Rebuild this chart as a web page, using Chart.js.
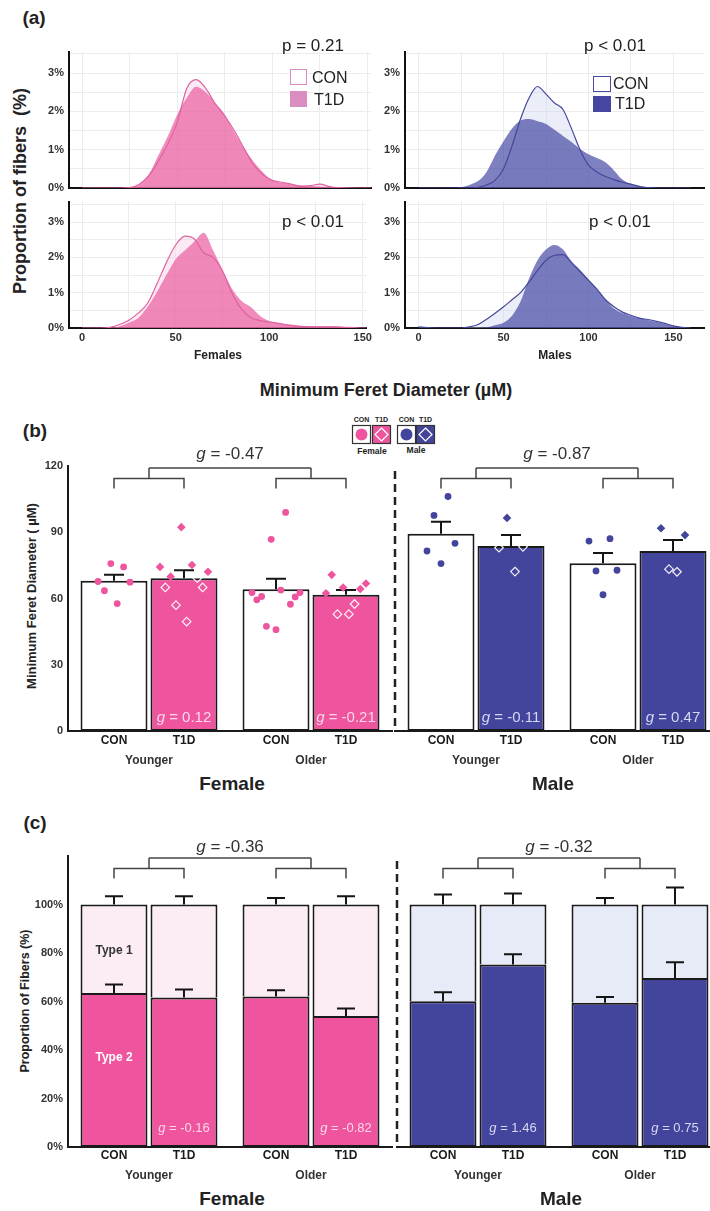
<!DOCTYPE html>
<html>
<head>
<meta charset="utf-8">
<script src="https://cdn.jsdelivr.net/npm/chart.js@4.4.1/dist/chart.umd.min.js"></script>
<style>
  body { margin: 0; width: 710px; height: 1211px; overflow: hidden; background: #fff; position: relative;
         font-family: "Liberation Sans", Arial, Helvetica, sans-serif; color: #222; }
  canvas { position: absolute; }
  .t { position: absolute; white-space: nowrap; transform: translate(-50%, -50%); line-height: 1; }
  .l { position: absolute; white-space: nowrap; transform: translateY(-50%); line-height: 1; }
  .rot { transform: translate(-50%, -50%) rotate(-90deg); }
  .b { font-weight: bold; }
  .box { position: absolute; box-sizing: border-box; }
</style>
</head>
<body>

<!-- (a) -->
<div class="t b" style="left:34px;top:17px;font-size:19px">(a)</div>
<div class="t b rot" style="left:20px;top:191px;font-size:18px">Proportion of fibers&nbsp; (%)</div>
<canvas id="aTL" width="336" height="160" style="left:39px;top:40px"></canvas>
<canvas id="aTR" width="333" height="160" style="left:375px;top:40px"></canvas>
<canvas id="aBL" width="336" height="158" style="left:39px;top:190px"></canvas>
<canvas id="aBR" width="333" height="158" style="left:375px;top:190px"></canvas>
<div class="t" style="left:313px;top:45px;font-size:17px">p = 0.21</div>
<div class="t" style="left:615px;top:45px;font-size:17px">p &lt; 0.01</div>
<div class="t" style="left:313px;top:221px;font-size:17px">p &lt; 0.01</div>
<div class="t" style="left:620px;top:221px;font-size:17px">p &lt; 0.01</div>
<div class="box" style="left:290px;top:69px;width:17px;height:16px;border:1.5px solid #d98dc0;background:#fff"></div>
<div class="box" style="left:290px;top:91px;width:17px;height:16px;background:#d98dc0"></div>
<div class="l" style="left:312px;top:78px;font-size:16px">CON</div>
<div class="l" style="left:314px;top:100px;font-size:16px">T1D</div>
<div class="box" style="left:593px;top:76px;width:18px;height:16px;border:1.5px solid #4a4c9c;background:#fff"></div>
<div class="box" style="left:593px;top:96px;width:18px;height:16px;background:#4646a0"></div>
<div class="l" style="left:613px;top:84px;font-size:16px">CON</div>
<div class="l" style="left:615px;top:104px;font-size:16px">T1D</div>
<div class="t b" style="left:218px;top:355px;font-size:12px">Females</div>
<div class="t b" style="left:555px;top:355px;font-size:12px">Males</div>
<div class="t b" style="left:386px;top:390px;font-size:18px">Minimum Feret Diameter (µM)</div>

<!-- (b) -->
<div class="t b" style="left:35px;top:430px;font-size:19px">(b)</div>
<svg style="position:absolute;left:350px;top:414px" width="90" height="44" viewBox="0 0 90 44">
  <g font-family="Liberation Sans, Arial, sans-serif" font-weight="bold" font-size="7" text-anchor="middle" fill="#222">
    <text x="11.5" y="7.5">CON</text><text x="31.5" y="7.5">T1D</text>
    <text x="56.5" y="7.5">CON</text><text x="75.5" y="7.5">T1D</text>
    <text x="22" y="40" font-size="8.5">Female</text><text x="66" y="39" font-size="8.5">Male</text>
  </g>
  <rect x="2.5" y="11.5" width="18" height="18" fill="#fff" stroke="#333" stroke-width="1.2"/>
  <circle cx="11.5" cy="20.5" r="6" fill="#ee559e"/>
  <rect x="22.5" y="11.5" width="18" height="18" fill="#ee559e" stroke="#333" stroke-width="1.2"/>
  <path d="M31.5 14 L38 20.5 L31.5 27 L25 20.5 Z" fill="none" stroke="#fff" stroke-width="1.2"/>
  <rect x="47.5" y="11.5" width="18" height="18" fill="#fff" stroke="#333" stroke-width="1.2"/>
  <circle cx="56.5" cy="20.5" r="6" fill="#43449b"/>
  <rect x="66.5" y="11.5" width="18" height="18" fill="#43449b" stroke="#333" stroke-width="1.2"/>
  <path d="M75.5 14 L82 20.5 L75.5 27 L69 20.5 Z" fill="none" stroke="#fff" stroke-width="1.2"/>
</svg>
<div class="t b rot" style="left:31px;top:596px;font-size:13px">Minimum Feret Diameter ( µM)</div>
<canvas id="bF" width="393" height="330" style="left:0px;top:440px"></canvas>
<canvas id="bM" width="330" height="330" style="left:389px;top:440px"></canvas>
<div class="t b" style="left:232px;top:783px;font-size:19px">Female</div>
<div class="t b" style="left:553px;top:783px;font-size:19px">Male</div>

<!-- (c) -->
<div class="t b" style="left:35px;top:822px;font-size:19px">(c)</div>
<div class="t b rot" style="left:25px;top:1001px;font-size:12.5px">Proportion of Fibers (%)</div>
<canvas id="cF" width="393" height="356" style="left:0px;top:830px"></canvas>
<canvas id="cM" width="330" height="356" style="left:391px;top:830px"></canvas>
<div class="t b" style="left:232px;top:1198px;font-size:19px">Female</div>
<div class="t b" style="left:561px;top:1198px;font-size:19px">Male</div>

<script>
const FONT = '"Liberation Sans", Arial, Helvetica, sans-serif';
Chart.defaults.font.family = FONT;
Chart.defaults.color = '#222';

// ---------- (a) fibre size distributions (% of fibres), 5 µm steps ----------
const diam = [0, 5, 10, 15, 20, 25, 30, 35, 40, 45, 50, 55, 60, 65, 70, 75, 80,
              85, 90, 95, 100, 105, 110, 115, 120, 125, 130, 135, 140, 145, 150, 155, 160];
const femRow1CON = [0, 0, 0, 0, 0, 0.01, 0.1, 0.32, 0.7, 1.15, 1.72, 2.6, 2.83, 2.6, 2.2, 1.88, 1.5,
                    1.05, 0.62, 0.35, 0.2, 0.15, 0.1, 0.04, 0.06, 0.1, 0.04, 0.01, 0, 0, 0, 0, 0];
const femRow1T1D = [0, 0, 0, 0, 0, 0.02, 0.08, 0.35, 0.85, 1.35, 1.92, 2.35, 2.64, 2.5, 2.22, 1.92, 1.45,
                    1.05, 0.7, 0.42, 0.2, 0.14, 0.1, 0.07, 0.05, 0.04, 0.03, 0.02, 0.01, 0, 0, 0, 0];
const femRow2CON = [0, 0, 0, 0.02, 0.1, 0.22, 0.42, 0.7, 1.25, 1.85, 2.35, 2.6, 2.52, 2.13, 2.0, 1.62, 1.0,
                    0.55, 0.3, 0.21, 0.17, 0.13, 0.08, 0.05, 0.04, 0.03, 0.03, 0.03, 0.02, 0.01, 0, 0, 0];
const femRow2T1D = [0, 0, 0, 0, 0.05, 0.15, 0.28, 0.6, 1.02, 1.5, 1.95, 2.2, 2.45, 2.7, 2.2, 1.65, 1.12,
                    0.78, 0.6, 0.35, 0.2, 0.13, 0.1, 0.08, 0.06, 0.05, 0.05, 0.04, 0.03, 0.02, 0, 0, 0];
const maleRow1CON = [0, 0, 0, 0, 0, 0, 0, 0.02, 0.08, 0.2, 0.5, 1.1, 1.8, 2.35, 2.65, 2.45, 2.22,
                     2.05, 1.55, 1.0, 0.6, 0.42, 0.3, 0.22, 0.15, 0.1, 0.04, 0.01, 0, 0, 0, 0, 0];
const maleRow1T1D = [0, 0, 0, 0, 0, 0.02, 0.08, 0.18, 0.42, 0.85, 1.22, 1.55, 1.76, 1.8, 1.74, 1.67, 1.52,
                     1.36, 1.2, 1.02, 0.88, 0.78, 0.67, 0.46, 0.22, 0.1, 0.06, 0.02, 0, 0, 0, 0, 0];
const maleRow2CON = [0.03, 0.01, 0, 0, 0, 0, 0.03, 0.1, 0.25, 0.42, 0.6, 0.8, 1.0, 1.3, 1.63, 1.92, 2.06,
                     2.08, 1.85, 1.6, 1.35, 1.1, 0.8, 0.6, 0.45, 0.36, 0.28, 0.24, 0.19, 0.13, 0.06, 0.02, 0];
const maleRow2T1D = [0, 0, 0, 0, 0, 0, 0, 0, 0.02, 0.08, 0.15, 0.35, 0.75, 1.4, 1.92, 2.22, 2.35,
                     2.22, 1.88, 1.65, 1.38, 1.1, 0.8, 0.55, 0.42, 0.34, 0.28, 0.23, 0.17, 0.11, 0.06, 0.01, 0];

// ---------- (b) minimum Feret diameter (µm) ----------
const ageGroups = ['Younger', 'Older'];
const femConMean = [68.0, 64.2];
const femConSem = [2.7, 4.8];
const femT1dMean = [69.2, 61.7];
const femT1dSem = [3.6, 2.1];
const maleConMean = [89.3, 76.0];
const maleConSem = [5.4, 4.6];
const maleT1dMean = [83.8, 81.5];
const maleT1dSem = [4.9, 5.0];
// individual participants, left to right as plotted
const femConYoungerPts = [67.7, 63.5, 75.8, 57.7, 74.3, 67.4];
const femT1dYoungerPts = [74.3, 65.0, 69.9, 57.0, 92.3, 49.5, 75.2, 69.2, 65.0, 72.1];
const femConOlderPts = [62.7, 59.4, 60.9, 47.4, 86.8, 45.9, 63.8, 99.0, 57.4, 60.7, 62.7];
const femT1dOlderPts = [62.4, 70.7, 52.9, 65.0, 52.9, 57.5, 64.3, 66.8];
const maleConYoungerPts = [81.5, 97.6, 75.8, 106.2, 85.0];
const maleT1dYoungerPts = [83.0, 96.5, 72.2, 83.4];
const maleConOlderPts = [86.0, 72.5, 61.7, 87.1, 72.8];
const maleT1dOlderPts = [91.8, 73.3, 72.1, 88.7];
const feretGFemale = '-0.47';
const feretGMale = '-0.87';
const feretBarGFemale = ['0.12', '-0.21'];
const feretBarGMale = ['-0.11', '0.47'];

// ---------- (c) fibre type proportions (%) ----------
const femConType2 = [63.5, 62.1];
const femConType2Sem = [3.5, 2.5];
const femConType1Sem = [3.4, 2.7];
const femT1dType2 = [61.6, 54.0];
const femT1dType2Sem = [3.3, 3.1];
const femT1dType1Sem = [3.4, 3.4];
const maleConType2 = [60.1, 59.5];
const maleConType2Sem = [3.7, 2.4];
const maleConType1Sem = [4.1, 2.7];
const maleT1dType2 = [75.3, 69.7];
const maleT1dType2Sem = [4.2, 6.5];
const maleT1dType1Sem = [4.5, 7.0];
const typeGFemale = '-0.36';
const typeGMale = '-0.32';
const typeBarGFemale = ['-0.16', '-0.82'];
const typeBarGMale = ['1.46', '0.75'];

const PINK = '#ee559e', BLUE = '#43449b';
const CAT_PCT = 0.864, BAR_PCT = 0.957;

// ---------------- panel (a) ----------------
function density(id, con, t1d, col, xMin, xMax, yMax, showX, padTop) {
  const pts = arr => diam.map((d, i) => ({ x: d, y: arr[i] }));
  return new Chart(document.getElementById(id), {
    type: 'line',
    data: {
      datasets: [
        { data: pts(con), borderColor: col.line, borderWidth: 1.2, fill: false, order: 0 },
        { data: pts(t1d), borderWidth: 0, borderColor: col.t1d, backgroundColor: col.t1d, fill: 'origin', order: 1 },
        { data: pts(con), borderWidth: 0, borderColor: col.conFill, backgroundColor: col.conFill, fill: 'origin', order: 2 }
      ]
    },
    options: {
      responsive: false, animation: false, events: [],
      layout: { padding: { top: padTop, right: 4 } },
      elements: { point: { radius: 0 }, line: { cubicInterpolationMode: 'monotone' } },
      plugins: { legend: { display: false }, tooltip: { enabled: false } },
      scales: {
        x: {
          type: 'linear', min: xMin, max: xMax,
          afterFit: s => { s.height = showX ? 20 : 12; },
          grid: { color: '#ececec', drawTicks: false },
          border: { color: '#111', width: 2 },
          ticks: { display: showX, stepSize: 25, includeBounds: false, autoSkip: false, maxRotation: 0,
                   padding: 3, color: '#333', font: { weight: 'bold', size: 11 },
                   callback: v => (v % 50 === 0 ? v : '') }
        },
        y: {
          min: 0, max: yMax,
          afterFit: s => { s.width = 30; },
          grid: { color: '#ececec', drawTicks: false },
          border: { color: '#111', width: 2 },
          ticks: { stepSize: 0.5, includeBounds: false, autoSkip: false, padding: 5, color: '#333',
                   font: { weight: 'bold', size: 11 },
                   callback: v => (Number.isInteger(v) ? v + '%' : '') }
        }
      }
    }
  });
}

const femCol = { line: '#df62a0', t1d: 'rgba(234,92,160,0.7)', conFill: 'rgba(246,200,225,0.4)' };
const maleCol = { line: '#45479a', t1d: 'rgba(58,60,158,0.65)', conFill: 'rgba(205,210,238,0.4)' };
density('aTL', femRow1CON, femRow1T1D, femCol, -7, 152, 3.55, false, 12);
density('aTR', maleRow1CON, maleRow1T1D, maleCol, -8, 168, 3.55, false, 12);
density('aBL', femRow2CON, femRow2T1D, femCol, -7, 152, 3.58, true, 3);
density('aBR', maleRow2CON, maleRow2T1D, maleCol, -8, 168, 3.58, true, 3);

// ---------------- shared helpers for (b) and (c) ----------------
function gText(ctx, val, cx, cy, size, color) {
  ctx.font = `italic ${size}px ${FONT}`;
  const w1 = ctx.measureText('g').width;
  const rest = ' = ' + val;
  ctx.font = `${size}px ${FONT}`;
  const w2 = ctx.measureText(rest).width;
  const x = cx - (w1 + w2) / 2;
  ctx.fillStyle = color; ctx.textAlign = 'left'; ctx.textBaseline = 'middle';
  ctx.font = `italic ${size}px ${FONT}`;
  ctx.fillText('g', x, cy);
  ctx.font = `${size}px ${FONT}`;
  ctx.fillText(rest, x + w1, cy);
}

// participant points, spread across the bar they belong to
function drawPoints(ctx, bar, vals, y, mean, diamond, color) {
  const n = vals.length, half = Math.min(24, 4 + 2 * n);
  vals.forEach((v, k) => {
    const px = bar.x + (n > 1 ? (k / (n - 1) - 0.5) * 2 * half : 0);
    const py = y.getPixelForValue(v);
    ctx.beginPath();
    if (!diamond) {
      ctx.arc(px, py, 3.4, 0, Math.PI * 2);
      ctx.fillStyle = color; ctx.fill();
      return;
    }
    const r = 4.3;
    ctx.moveTo(px, py - r); ctx.lineTo(px + r, py); ctx.lineTo(px, py + r); ctx.lineTo(px - r, py);
    ctx.closePath();
    if (v > mean) { ctx.fillStyle = color; ctx.fill(); }
    else { ctx.strokeStyle = 'rgba(255,255,255,0.92)'; ctx.lineWidth = 1.2; ctx.stroke(); }
  });
}

const errorBars = {
  id: 'errorBars',
  afterDatasetDraw(chart, args, o) {
    const ds = chart.data.datasets[args.index];
    if (!ds.sem) return;
    const ctx = chart.ctx, y = chart.scales.y;
    ctx.save();
    ctx.strokeStyle = '#151515'; ctx.lineWidth = 2;
    args.meta.data.forEach((bar, j) => {
      const tip = y.getPixelForValue(y.getValueForPixel(bar.y) + ds.sem[j]);
      ctx.beginPath();
      ctx.moveTo(bar.x, bar.y); ctx.lineTo(bar.x, tip);
      ctx.moveTo(bar.x - o.cap / 2, tip); ctx.lineTo(bar.x + o.cap / 2, tip);
      ctx.stroke();
    });
    ctx.restore();
  }
};

const decor = {
  id: 'decor',
  afterDraw(chart, args, o) {
    const ctx = chart.ctx, y = chart.scales.y, area = chart.chartArea;
    const con = chart.getDatasetMeta(o.con).data, t1d = chart.getDatasetMeta(o.t1d).data;
    ctx.save();
    // participants
    if (o.points) {
      const conMean = chart.data.datasets[o.con].data, t1dMean = chart.data.datasets[o.t1d].data;
      con.forEach((b, j) => drawPoints(ctx, b, o.points.con[j], y, conMean[j], false, o.points.color));
      t1d.forEach((b, j) => drawPoints(ctx, b, o.points.t1d[j], y, t1dMean[j], true, o.points.color));
    }
    // group labels under each bar
    ctx.font = `bold 12px ${FONT}`; ctx.fillStyle = '#1a1a1a';
    ctx.textAlign = 'center'; ctx.textBaseline = 'middle';
    con.forEach(b => ctx.fillText('CON', b.x, area.bottom + o.labelDy));
    t1d.forEach(b => ctx.fillText('T1D', b.x, area.bottom + o.labelDy));
    // effect size inside T1D bars
    t1d.forEach((b, j) => gText(ctx, o.barG[j], b.x, b.base - o.gLift, o.gSize, o.gColor));
    // brackets
    const [lo, mid, hi] = o.levels.map(v => y.getPixelForValue(v));
    ctx.strokeStyle = '#444'; ctx.lineWidth = 1.5;
    const mids = con.map((b, j) => {
      const x0 = b.x, x1 = t1d[j].x, xm = (x0 + x1) / 2;
      ctx.beginPath();
      ctx.moveTo(x0, lo); ctx.lineTo(x0, mid); ctx.lineTo(x1, mid); ctx.lineTo(x1, lo);
      ctx.moveTo(xm, mid); ctx.lineTo(xm, hi);
      ctx.stroke();
      return xm;
    });
    ctx.beginPath(); ctx.moveTo(mids[0], hi); ctx.lineTo(mids[1], hi); ctx.stroke();
    gText(ctx, o.g, (mids[0] + mids[1]) / 2, hi - o.gAbove, 17, '#333');
    // dashed separator between sexes
    if (o.separator) {
      ctx.setLineDash([8, 5]); ctx.lineWidth = 2.5; ctx.strokeStyle = '#222';
      ctx.beginPath(); ctx.moveTo(area.left, area.top + 5); ctx.lineTo(area.left, area.bottom); ctx.stroke();
      ctx.setLineDash([]);
    }
    // fibre type names in the first bar
    if (o.typeLabels) {
      ctx.font = `bold 12px ${FONT}`; ctx.textAlign = 'center';
      ctx.fillStyle = '#333'; ctx.fillText('Type 1', con[0].x, y.getPixelForValue(81));
      ctx.fillStyle = '#fff'; ctx.fillText('Type 2', con[0].x, y.getPixelForValue(37));
    }
    ctx.restore();
  }
};

function xScale(pad, stacked) {
  return {
    stacked: stacked,
    afterFit: s => { s.height = 39; },
    grid: { display: false, drawTicks: false },
    border: { color: '#1a1a1a', width: 2 },
    ticks: { padding: pad, color: '#333', font: { weight: 'bold', size: 12 } }
  };
}
function yScale(showY, max, step, fmt, stacked) {
  return {
    display: showY, stacked: stacked, min: 0, max: max,
    afterFit: s => { s.width = showY ? 68 : 0; },
    grid: { display: false, drawTicks: false },
    border: { color: '#1a1a1a', width: 2 },
    ticks: { stepSize: step, padding: 5, autoSkip: false, color: '#333',
             font: { weight: 'bold', size: 11 }, callback: fmt }
  };
}

// ---------------- panel (b) ----------------
function feret(id, showY, col, con, conSem, t1d, t1dSem, conPts, t1dPts, g, barG, gColor) {
  const pad = showY ? { top: 26, right: 1 } : { top: 26, left: 6 };
  const bar = (label, data, sem, fill) => ({
    label: label, data: data, sem: sem, backgroundColor: fill,
    borderColor: '#1a1a1a', borderWidth: 2, borderSkipped: false
  });
  return new Chart(document.getElementById(id), {
    type: 'bar',
    data: {
      labels: ageGroups,
      datasets: [bar('CON', con, conSem, '#fff'), bar('T1D', t1d, t1dSem, col)]
    },
    options: {
      responsive: false, animation: false, events: [],
      layout: { padding: pad },
      datasets: { bar: { categoryPercentage: CAT_PCT, barPercentage: BAR_PCT } },
      plugins: {
        legend: { display: false }, tooltip: { enabled: false },
        errorBars: { cap: 20 },
        decor: { con: 0, t1d: 1, labelDy: 10, barG: barG, gLift: 13, gSize: 15, gColor: gColor,
                 levels: [109.8, 114.3, 119.1], g: g, gAbove: 14, separator: !showY, typeLabels: false,
                 points: { con: conPts, t1d: t1dPts, color: col } }
      },
      scales: {
        x: xScale(22, false),
        y: yScale(showY, 120, 30, v => v, false)
      }
    },
    plugins: [errorBars, decor]
  });
}

feret('bF', true, PINK, femConMean, femConSem, femT1dMean, femT1dSem,
      [femConYoungerPts, femConOlderPts], [femT1dYoungerPts, femT1dOlderPts],
      feretGFemale, feretBarGFemale, 'rgba(255,222,236,0.95)');
feret('bM', false, BLUE, maleConMean, maleConSem, maleT1dMean, maleT1dSem,
      [maleConYoungerPts, maleConOlderPts], [maleT1dYoungerPts, maleT1dOlderPts],
      feretGMale, feretBarGMale, 'rgba(222,222,250,0.95)');

// ---------------- panel (c) ----------------
function fibreType(id, showY, col2, col1, conT2, conT2Sem, conT1Sem, t1dT2, t1dT2Sem, t1dT1Sem, g, barG, gColor) {
  const pad = showY ? { top: 26, right: 1 } : { top: 26, left: 6 };
  // the lower segment carries the shared edge, the upper one leaves its bottom edge open
  const seg = (label, data, sem, stack, color, upper) => ({
    label: label, data: data, sem: sem, stack: stack, backgroundColor: color,
    borderColor: '#1a1a1a', borderSkipped: false,
    borderWidth: upper ? { top: 2, left: 2, right: 2, bottom: 0 } : 2
  });
  return new Chart(document.getElementById(id), {
    type: 'bar',
    data: {
      labels: ageGroups,
      datasets: [
        seg('CON Type 2', conT2, conT2Sem, 'CON', col2, false),
        seg('CON Type 1', conT2.map(v => 100 - v), conT1Sem, 'CON', col1, true),
        seg('T1D Type 2', t1dT2, t1dT2Sem, 'T1D', col2, false),
        seg('T1D Type 1', t1dT2.map(v => 100 - v), t1dT1Sem, 'T1D', col1, true)
      ]
    },
    options: {
      responsive: false, animation: false, events: [],
      layout: { padding: pad },
      datasets: { bar: { categoryPercentage: CAT_PCT, barPercentage: BAR_PCT } },
      plugins: {
        legend: { display: false }, tooltip: { enabled: false },
        errorBars: { cap: 18 },
        decor: { con: 0, t1d: 2, labelDy: 9, barG: barG, gLift: 19, gSize: 13, gColor: gColor,
                 levels: [110.7, 114.8, 119.2], g: g, gAbove: 11, separator: !showY, typeLabels: showY }
      },
      scales: {
        x: xScale(21, true),
        y: yScale(showY, 120, 20, v => (v <= 100 ? v + '%' : ''), true)
      }
    },
    plugins: [errorBars, decor]
  });
}

fibreType('cF', true, PINK, '#fcedf5', femConType2, femConType2Sem, femConType1Sem,
          femT1dType2, femT1dType2Sem, femT1dType1Sem, typeGFemale, typeBarGFemale, 'rgba(255,222,236,0.95)');
fibreType('cM', false, BLUE, '#e6ebf7', maleConType2, maleConType2Sem, maleConType1Sem,
          maleT1dType2, maleT1dType2Sem, maleT1dType1Sem, typeGMale, typeBarGMale, 'rgba(222,222,250,0.95)');
</script>
</body>
</html>
